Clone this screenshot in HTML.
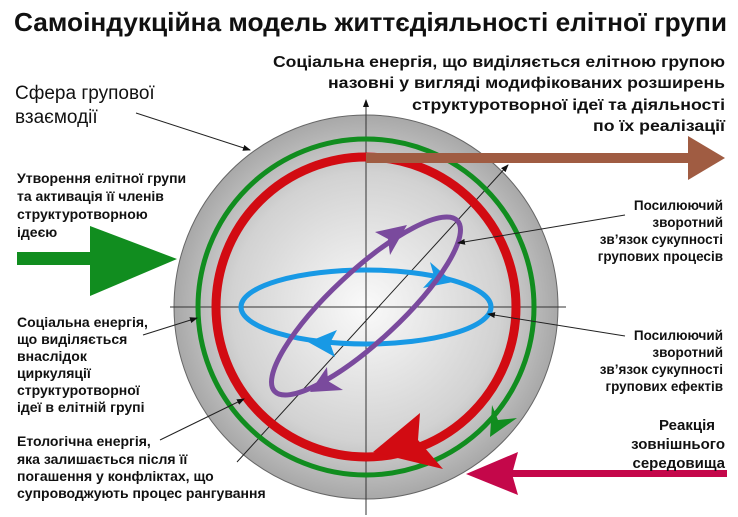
<!DOCTYPE html>
<html><head><meta charset="utf-8"><style>
body{margin:0;background:#fff}
svg{display:block}
text{font-family:"Liberation Sans",sans-serif;fill:#111}
.b{font-weight:bold;font-size:13px}
</style></head><body>
<svg width="738" height="517" viewBox="0 0 738 517">
<defs>
<radialGradient id="g" cx="0.5" cy="0.5" r="0.5">
<stop offset="0" stop-color="#fafafa"/>
<stop offset="0.7" stop-color="#d2d2d2"/>
<stop offset="1" stop-color="#a8a8a8"/>
</radialGradient>
<marker id="a" markerWidth="8" markerHeight="6" refX="7" refY="3" orient="auto" markerUnits="userSpaceOnUse"><path d="M0,0 L8,3 L0,6z" fill="#111"/></marker>
</defs>
<text x="14" y="31" font-size="26" font-weight="bold" textLength="713" lengthAdjust="spacingAndGlyphs">Самоіндукційна модель життєдіяльності елітної групи</text>
<circle cx="366" cy="307" r="192" fill="url(#g)" stroke="#666" stroke-width="1"/>
<line x1="170" y1="307" x2="566" y2="307" stroke="#333" stroke-width="1"/>
<line x1="366" y1="515" x2="366" y2="100" stroke="#333" stroke-width="1" marker-end="url(#a)"/>
<line x1="237" y1="462" x2="508" y2="165" stroke="#222" stroke-width="1" marker-end="url(#a)"/>
<circle cx="366" cy="307" r="168" fill="none" stroke="#118d1f" stroke-width="5"/>
<circle cx="366" cy="307" r="150" fill="none" stroke="#d20b12" stroke-width="9"/>
<polygon points="490,437 492,405 498,420 517,418" fill="#118d1f"/>
<polygon points="373,452 420,413 418,440 443,469" fill="#d20b12"/>
<ellipse cx="366" cy="307" rx="125" ry="37" fill="none" stroke="#1899e5" stroke-width="5"/>
<polygon points="453,282 430,262 434,276 423,288" fill="#1899e5"/>
<polygon points="308,342 337,330 330,343 335,357" fill="#1899e5"/>
<ellipse cx="366" cy="306" rx="125" ry="35" transform="rotate(-43 366 306)" fill="none" stroke="#7a4a9d" stroke-width="5"/>
<polygon points="407,225 375,232 388,239 390,255" fill="#7a4a9d"/>
<polygon points="310,392 327,367 328,381 343,390" fill="#7a4a9d"/>
<rect x="366" y="153" width="326" height="10" fill="#a05c42"/>
<polygon points="688,136 725,158 688,180" fill="#a05c42"/>
<rect x="17" y="252" width="80" height="13" fill="#118d1f"/>
<polygon points="90,226 177,259 90,296" fill="#118d1f"/>
<rect x="512" y="470" width="215" height="7" fill="#c4074a"/>
<polygon points="466,474 518,452 512,474 518,495" fill="#c4074a"/>
<text font-size="19"><tspan x="15" y="99">Сфера групової</tspan><tspan x="15" y="123">взаємодії</tspan></text>
<line x1="136" y1="113" x2="250" y2="150" stroke="#222" stroke-width="1" marker-end="url(#a)"/>
<text x="273" y="67" class="b" style="font-size:16px" textLength="452" lengthAdjust="spacingAndGlyphs">Соціальна енергія, що виділяється елітною групою</text>
<text x="328" y="88" class="b" style="font-size:16px" textLength="397" lengthAdjust="spacingAndGlyphs">назовні у вигляді модифікованих розширень</text>
<text x="412" y="110" class="b" style="font-size:16px" textLength="313" lengthAdjust="spacingAndGlyphs">структуротворної ідеї та діяльності</text>
<text x="593" y="131" class="b" style="font-size:16px" textLength="132" lengthAdjust="spacingAndGlyphs">по їх реалізації</text>
<text class="b" style="font-size:14px"><tspan x="17" y="183">Утворення елітної  групи</tspan><tspan x="17" y="201">та активація її членів</tspan><tspan x="17" y="219">структуротворною</tspan><tspan x="17" y="237">ідеєю</tspan></text>
<text class="b" style="font-size:13.5px" text-anchor="end"><tspan x="723" y="210">Посилюючий</tspan><tspan x="723" y="227">зворотний</tspan><tspan x="723" y="244">зв’язок сукупності</tspan><tspan x="723" y="261">групових процесів</tspan></text>
<line x1="625" y1="215" x2="458" y2="243" stroke="#222" stroke-width="1" marker-end="url(#a)"/>
<text class="b" style="font-size:13.5px" text-anchor="end"><tspan x="723" y="340">Посилюючий</tspan><tspan x="723" y="357">зворотний</tspan><tspan x="723" y="374">зв’язок сукупності</tspan><tspan x="723" y="391">групових ефектів</tspan></text>
<line x1="625" y1="336" x2="488" y2="314" stroke="#222" stroke-width="1" marker-end="url(#a)"/>
<text class="b" style="font-size:15px" text-anchor="end"><tspan x="715" y="430">Реакція</tspan><tspan x="725" y="449">зовнішнього</tspan><tspan x="725" y="468">середовища</tspan></text>
<text class="b" style="font-size:14px"><tspan x="17" y="327">Соціальна енергія,</tspan><tspan x="17" y="344">що  виділяється</tspan><tspan x="17" y="361">внаслідок</tspan><tspan x="17" y="378">циркуляції</tspan><tspan x="17" y="395">структуротворної</tspan><tspan x="17" y="412">ідеї в елітній групі</tspan></text>
<line x1="143" y1="335" x2="197" y2="318" stroke="#222" stroke-width="1" marker-end="url(#a)"/>
<text class="b" style="font-size:14px"><tspan x="17" y="446">Етологічна енергія,</tspan><tspan x="17" y="464">яка залишається після її</tspan><tspan x="17" y="481">погашення у конфліктах, що</tspan><tspan x="17" y="498">супроводжують процес рангування</tspan></text>
<line x1="160" y1="440" x2="244" y2="399" stroke="#222" stroke-width="1" marker-end="url(#a)"/>
</svg>
</body></html>
